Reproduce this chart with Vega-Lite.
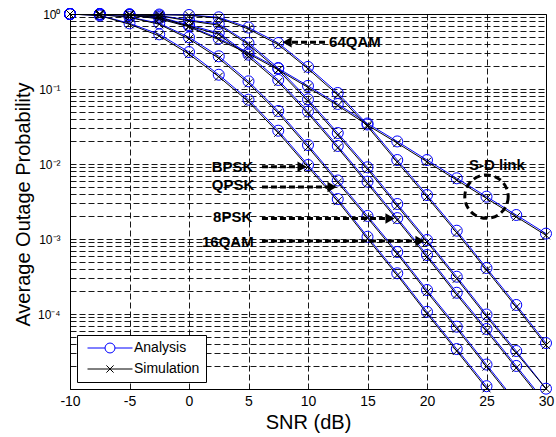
{
  "$schema": "https://vega.github.io/schema/vega-lite/v6.json",
  "width": 476,
  "height": 375,
  "autosize": {"type": "none"},
  "padding": {"left": 70, "top": 14, "right": 10, "bottom": 48},
  "background": "white",
  "config": {
    "view": {"stroke": "#000000", "strokeWidth": 1},
    "font": "Liberation Sans",
    "axis": {"labelColor": "#000000", "titleColor": "#000000"}
  },
  "datasets": {
    "curves": [
      {"curve":"64QAM","snr":-10,"analysis":1,"simulation":1},
      {"curve":"64QAM","snr":-7.5,"analysis":1,"simulation":1},
      {"curve":"64QAM","snr":-5,"analysis":0.995,"simulation":0.993},
      {"curve":"64QAM","snr":-2.5,"analysis":0.985,"simulation":0.98},
      {"curve":"64QAM","snr":0,"analysis":0.97,"simulation":0.96},
      {"curve":"64QAM","snr":2.5,"analysis":0.904,"simulation":0.88},
      {"curve":"64QAM","snr":5,"analysis":0.66,"simulation":0.63},
      {"curve":"64QAM","snr":7.5,"analysis":0.41,"simulation":0.39},
      {"curve":"64QAM","snr":10,"analysis":0.197,"simulation":0.186},
      {"curve":"64QAM","snr":12.5,"analysis":0.0885,"simulation":0.0832},
      {"curve":"64QAM","snr":15,"analysis":0.0336,"simulation":0.0316},
      {"curve":"64QAM","snr":17.5,"analysis":0.0113,"simulation":0.0106},
      {"curve":"64QAM","snr":20,"analysis":0.00386,"simulation":0.00363},
      {"curve":"64QAM","snr":22.5,"analysis":0.00129,"simulation":0.00121},
      {"curve":"64QAM","snr":25,"analysis":0.00041,"simulation":0.000385},
      {"curve":"64QAM","snr":27.5,"analysis":0.000132,"simulation":0.000124},
      {"curve":"64QAM","snr":30,"analysis":0.000041,"simulation":0.0000385},

      {"curve":"16QAM","snr":-10,"analysis":1,"simulation":1},
      {"curve":"16QAM","snr":-7.5,"analysis":1,"simulation":1},
      {"curve":"16QAM","snr":-5,"analysis":0.985,"simulation":0.98},
      {"curve":"16QAM","snr":-2.5,"analysis":0.955,"simulation":0.945},
      {"curve":"16QAM","snr":0,"analysis":0.832,"simulation":0.81},
      {"curve":"16QAM","snr":2.5,"analysis":0.736,"simulation":0.71},
      {"curve":"16QAM","snr":5,"analysis":0.411,"simulation":0.39},
      {"curve":"16QAM","snr":7.5,"analysis":0.1905,"simulation":0.179},
      {"curve":"16QAM","snr":10,"analysis":0.0729,"simulation":0.0685},
      {"curve":"16QAM","snr":12.5,"analysis":0.0259,"simulation":0.0243},
      {"curve":"16QAM","snr":15,"analysis":0.00904,"simulation":0.0085},
      {"curve":"16QAM","snr":17.5,"analysis":0.00293,"simulation":0.00275},
      {"curve":"16QAM","snr":20,"analysis":0.00097,"simulation":0.000912},
      {"curve":"16QAM","snr":22.5,"analysis":0.000314,"simulation":0.000295},
      {"curve":"16QAM","snr":25,"analysis":0.0000985,"simulation":0.0000926},
      {"curve":"16QAM","snr":27.5,"analysis":0.0000321,"simulation":0.0000302},
      {"curve":"16QAM","snr":30,"analysis":0.0000101,"simulation":0.0000101},

      {"curve":"8PSK","snr":-10,"analysis":1,"simulation":1},
      {"curve":"8PSK","snr":-7.5,"analysis":0.994,"simulation":0.99},
      {"curve":"8PSK","snr":-5,"analysis":0.97,"simulation":0.965},
      {"curve":"8PSK","snr":-2.5,"analysis":0.912,"simulation":0.9},
      {"curve":"8PSK","snr":0,"analysis":0.714,"simulation":0.69},
      {"curve":"8PSK","snr":2.5,"analysis":0.558,"simulation":0.535},
      {"curve":"8PSK","snr":5,"analysis":0.287,"simulation":0.27},
      {"curve":"8PSK","snr":7.5,"analysis":0.132,"simulation":0.124},
      {"curve":"8PSK","snr":10,"analysis":0.0501,"simulation":0.0471},
      {"curve":"8PSK","snr":12.5,"analysis":0.0174,"simulation":0.0164},
      {"curve":"8PSK","snr":15,"analysis":0.00581,"simulation":0.00546},
      {"curve":"8PSK","snr":17.5,"analysis":0.0019,"simulation":0.00179},
      {"curve":"8PSK","snr":20,"analysis":0.000612,"simulation":0.000575},
      {"curve":"8PSK","snr":22.5,"analysis":0.000192,"simulation":0.00018},
      {"curve":"8PSK","snr":25,"analysis":0.0000631,"simulation":0.0000593},
      {"curve":"8PSK","snr":27.5,"analysis":0.0000203,"simulation":0.0000191},
      {"curve":"8PSK","snr":30,"analysis":0.0000065,"simulation":0.0000061},

      {"curve":"QPSK","snr":-10,"analysis":1,"simulation":1},
      {"curve":"QPSK","snr":-7.5,"analysis":0.985,"simulation":0.98},
      {"curve":"QPSK","snr":-5,"analysis":0.912,"simulation":0.9},
      {"curve":"QPSK","snr":-2.5,"analysis":0.751,"simulation":0.73},
      {"curve":"QPSK","snr":0,"analysis":0.489,"simulation":0.465},
      {"curve":"QPSK","snr":2.5,"analysis":0.273,"simulation":0.257},
      {"curve":"QPSK","snr":5,"analysis":0.1266,"simulation":0.119},
      {"curve":"QPSK","snr":7.5,"analysis":0.0509,"simulation":0.0478},
      {"curve":"QPSK","snr":10,"analysis":0.0179,"simulation":0.0168},
      {"curve":"QPSK","snr":12.5,"analysis":0.00603,"simulation":0.00567},
      {"curve":"QPSK","snr":15,"analysis":0.00203,"simulation":0.00191},
      {"curve":"QPSK","snr":17.5,"analysis":0.000671,"simulation":0.000631},
      {"curve":"QPSK","snr":20,"analysis":0.000209,"simulation":0.000196},
      {"curve":"QPSK","snr":22.5,"analysis":0.0000677,"simulation":0.0000636},
      {"curve":"QPSK","snr":25,"analysis":0.0000212,"simulation":0.0000199},
      {"curve":"QPSK","snr":27.5,"analysis":0.0000067,"simulation":0.0000063},
      {"curve":"QPSK","snr":30,"analysis":0.00000215,"simulation":0.000002},

      {"curve":"BPSK","snr":-10,"analysis":1,"simulation":1},
      {"curve":"BPSK","snr":-7.5,"analysis":0.955,"simulation":0.95},
      {"curve":"BPSK","snr":-5,"analysis":0.751,"simulation":0.73},
      {"curve":"BPSK","snr":-2.5,"analysis":0.536,"simulation":0.51},
      {"curve":"BPSK","snr":0,"analysis":0.311,"simulation":0.292},
      {"curve":"BPSK","snr":2.5,"analysis":0.155,"simulation":0.146},
      {"curve":"BPSK","snr":5,"analysis":0.072,"simulation":0.0677},
      {"curve":"BPSK","snr":7.5,"analysis":0.0278,"simulation":0.0261},
      {"curve":"BPSK","snr":10,"analysis":0.0097,"simulation":0.00912},
      {"curve":"BPSK","snr":12.5,"analysis":0.00341,"simulation":0.0032},
      {"curve":"BPSK","snr":15,"analysis":0.00107,"simulation":0.00101},
      {"curve":"BPSK","snr":17.5,"analysis":0.000349,"simulation":0.000328},
      {"curve":"BPSK","snr":20,"analysis":0.000107,"simulation":0.000101},
      {"curve":"BPSK","snr":22.5,"analysis":0.0000341,"simulation":0.0000321},
      {"curve":"BPSK","snr":25,"analysis":0.0000109,"simulation":0.0000102},
      {"curve":"BPSK","snr":27.5,"analysis":0.0000035,"simulation":0.0000033},
      {"curve":"BPSK","snr":30,"analysis":0.0000011,"simulation":0.000001},

      {"curve":"S-D","snr":-10,"analysis":1,"simulation":1},
      {"curve":"S-D","snr":-7.5,"analysis":1,"simulation":1},
      {"curve":"S-D","snr":-5,"analysis":0.97,"simulation":0.965},
      {"curve":"S-D","snr":-2.5,"analysis":0.871,"simulation":0.86},
      {"curve":"S-D","snr":0,"analysis":0.692,"simulation":0.675},
      {"curve":"S-D","snr":2.5,"analysis":0.471,"simulation":0.455},
      {"curve":"S-D","snr":5,"analysis":0.307,"simulation":0.295},
      {"curve":"S-D","snr":7.5,"analysis":0.188,"simulation":0.18},
      {"curve":"S-D","snr":10,"analysis":0.11,"simulation":0.105},
      {"curve":"S-D","snr":12.5,"analysis":0.0631,"simulation":0.06},
      {"curve":"S-D","snr":15,"analysis":0.0347,"simulation":0.033},
      {"curve":"S-D","snr":17.5,"analysis":0.02,"simulation":0.019},
      {"curve":"S-D","snr":20,"analysis":0.0113,"simulation":0.0107},
      {"curve":"S-D","snr":22.5,"analysis":0.00645,"simulation":0.0061},
      {"curve":"S-D","snr":25,"analysis":0.00367,"simulation":0.00348},
      {"curve":"S-D","snr":27.5,"analysis":0.00209,"simulation":0.00198},
      {"curve":"S-D","snr":30,"analysis":0.00118,"simulation":0.00112}
    ],
    "arrows": [
      {"name":"BPSK","x1":6.13,"x2":9.5,"y":0.0092,"dir":"right"},
      {"name":"QPSK","x1":6.13,"x2":12.02,"y":0.00493,"dir":"right"},
      {"name":"8PSK","x1":6.13,"x2":16.89,"y":0.00188,"dir":"right"},
      {"name":"16QAM","x1":6.13,"x2":19.41,"y":0.00094,"dir":"right"},
      {"name":"64QAM","x1":11.43,"x2":8.24,"y":0.4195,"dir":"left"}
    ],
    "labels": [
      {"text":"BPSK","x":1.91,"y":0.00912},
      {"text":"QPSK","x":1.91,"y":0.00517},
      {"text":"8PSK","x":2.02,"y":0.00196},
      {"text":"16QAM","x":1.09,"y":0.000912},
      {"text":"64QAM","x":11.77,"y":0.423},
      {"text":"S-D link","x":23.53,"y":0.0097}
    ],
    "sdcircle": [{"x":25,"y":0.00367}],
    "legenddummy": [
      {"type":"Analysis","x":-50,"y":0.5},
      {"type":"Simulation","x":-50,"y":0.5}
    ]
  },
  "layer": [
    {
      "data": {"name": "curves"},
      "mark": {"type": "line", "color": "#0000ff", "strokeWidth": 1, "clip": true},
      "encoding": {
        "x": {
          "field": "snr", "type": "quantitative", "title": "SNR (dB)",
          "scale": {"domain": [-10, 30], "nice": false, "zero": false},
          "axis": {
            "values": [-10, -5, 0, 5, 10, 15, 20, 25, 30],
            "labelExpr": "replace(datum.label, '−', '-')",
            "grid": true, "gridColor": "#000000", "gridOpacity": 0.9, "gridDash": [6, 3], "gridWidth": 1,
            "ticks": false, "domain": false, "labelFlush": false,
            "labelFontSize": 14, "labelPadding": 5, "labelFont": "Liberation Sans",
            "titleFontSize": 20, "titleFontWeight": "normal", "titleFont": "Liberation Sans",
            "titleX": 238, "titleY": 39, "titleBaseline": "alphabetic", "titleAlign": "center", "titleAnchor": null
          }
        },
        "y": {
          "field": "analysis", "type": "quantitative", "title": "Average Outage Probability",
          "scale": {"type": "log", "domain": [0.00001, 1], "nice": false},
          "axis": {
            "values": [0.00001,0.00002,0.00003,0.00004,0.00005,0.00006,0.00007,0.00008,0.00009,
                       0.0001,0.0002,0.0003,0.0004,0.0005,0.0006,0.0007,0.0008,0.0009,
                       0.001,0.002,0.003,0.004,0.005,0.006,0.007,0.008,0.009,
                       0.01,0.02,0.03,0.04,0.05,0.06,0.07,0.08,0.09,
                       0.1,0.2,0.3,0.4,0.5,0.6,0.7,0.8,0.9,1],
            "labelExpr": "(abs(log(datum.value)/LN10 - round(log(datum.value)/LN10)) < 0.000001 && datum.value > 0.00005) ? ('10' + ['⁰','⁻¹','⁻²','⁻³','⁻⁴'][round(-log(datum.value)/LN10)]) : ''",
            "labelOverlap": false,
            "grid": true, "gridColor": "#000000", "gridOpacity": 0.9, "gridDash": [6, 3], "gridWidth": 1,
            "ticks": false, "domain": false,
            "labelFontSize": 12, "labelPadding": 10, "labelFont": "Liberation Sans", "labelBaseline": "middle",
            "titleFontSize": 20, "titleFontWeight": "normal", "titleFont": "Liberation Sans",
            "titleX": -41, "titleY": 190, "titleAngle": 270, "titleBaseline": "alphabetic", "titleAlign": "center", "titleAnchor": null
          }
        },
        "detail": {"field": "curve"}
      }
    },
    {
      "data": {"name": "curves"},
      "transform": [{"filter": "datum.analysis >= 0.00001"}],
      "mark": {"type": "point", "shape": "circle", "size": 121, "filled": false, "color": "#0000ff", "strokeWidth": 1, "opacity": 1},
      "encoding": {
        "x": {"field": "snr", "type": "quantitative", "title": "SNR (dB)"},
        "y": {"field": "analysis", "type": "quantitative", "title": "Average Outage Probability"}
      }
    },
    {
      "data": {"name": "curves"},
      "mark": {"type": "line", "color": "#000000", "strokeWidth": 1, "clip": true},
      "encoding": {
        "x": {"field": "snr", "type": "quantitative", "title": "SNR (dB)"},
        "y": {"field": "simulation", "type": "quantitative", "title": "Average Outage Probability"},
        "detail": {"field": "curve"}
      }
    },
    {
      "data": {"name": "curves"},
      "transform": [{"filter": "datum.simulation >= 0.00001"}],
      "mark": {"type": "point", "shape": "M-1,-1L1,1M-1,1L1,-1", "size": 64, "filled": false, "color": "#000000", "strokeWidth": 1, "opacity": 1},
      "encoding": {
        "x": {"field": "snr", "type": "quantitative", "title": "SNR (dB)"},
        "y": {"field": "simulation", "type": "quantitative", "title": "Average Outage Probability"}
      }
    },
    {
      "data": {"name": "arrows"},
      "mark": {"type": "rule", "color": "#000000", "strokeWidth": 3, "strokeDash": [6, 3]},
      "encoding": {
        "x": {"field": "x1", "type": "quantitative", "title": "SNR (dB)"},
        "x2": {"field": "x2"},
        "y": {"field": "y", "type": "quantitative", "title": "Average Outage Probability"}
      }
    },
    {
      "data": {"name": "arrows"},
      "transform": [{"filter": "datum.dir == 'right'"}],
      "mark": {"type": "point", "shape": "triangle-right", "size": 110, "filled": true, "color": "#000000", "opacity": 1},
      "encoding": {
        "x": {"field": "x2", "type": "quantitative", "title": "SNR (dB)"},
        "y": {"field": "y", "type": "quantitative", "title": "Average Outage Probability"}
      }
    },
    {
      "data": {"name": "arrows"},
      "transform": [{"filter": "datum.dir == 'left'"}],
      "mark": {"type": "point", "shape": "triangle-left", "size": 110, "filled": true, "color": "#000000", "opacity": 1},
      "encoding": {
        "x": {"field": "x2", "type": "quantitative", "title": "SNR (dB)"},
        "y": {"field": "y", "type": "quantitative", "title": "Average Outage Probability"}
      }
    },
    {
      "data": {"name": "labels"},
      "mark": {"type": "text", "align": "left", "baseline": "middle", "font": "Liberation Sans", "fontWeight": "bold", "fontSize": 15, "color": "#000000"},
      "encoding": {
        "x": {"field": "x", "type": "quantitative", "title": "SNR (dB)"},
        "y": {"field": "y", "type": "quantitative", "title": "Average Outage Probability"},
        "text": {"field": "text"}
      }
    },
    {
      "data": {"name": "sdcircle"},
      "mark": {"type": "point", "shape": "circle", "size": 1884, "filled": false, "color": "#000000", "strokeWidth": 3, "strokeDash": [7, 4], "opacity": 1},
      "encoding": {
        "x": {"field": "x", "type": "quantitative", "title": "SNR (dB)"},
        "y": {"field": "y", "type": "quantitative", "title": "Average Outage Probability"}
      }
    },
    {
      "data": {"name": "legenddummy"},
      "mark": {"type": "point", "filled": false, "strokeWidth": 1, "size": 144, "opacity": 1, "clip": true},
      "encoding": {
        "x": {"field": "x", "type": "quantitative", "title": "SNR (dB)"},
        "y": {"field": "y", "type": "quantitative", "title": "Average Outage Probability"},
        "color": {
          "field": "type", "type": "nominal",
          "scale": {"domain": ["Analysis", "Simulation"], "range": ["#0000ff", "#000000"]},
          "legend": {
            "orient": "none", "legendX": 7, "legendY": 321, "title": null,
            "symbolSize": 144, "symbolStrokeWidth": 1, "symbolOffset": 20, "labelOffset": 17,
            "labelFontSize": 14, "labelFont": "Liberation Sans", "labelColor": "#000000",
            "padding": 6, "rowPadding": 7, "strokeColor": "#000000", "fillColor": "#ffffff"
          }
        },
        "shape": {
          "field": "type", "type": "nominal",
          "scale": {"domain": ["Analysis", "Simulation"], "range": ["M-3.75,0L-0.83,0M0.83,0L3.75,0M-0.83,0A0.83,0.83,0,1,1,0.83,0A0.83,0.83,0,1,1,-0.83,0", "M-3.75,0L3.75,0M-0.6,-0.6L0.6,0.6M-0.6,0.6L0.6,-0.6"]},
          "legend": {
            "orient": "none", "legendX": 7, "legendY": 321, "title": null,
            "symbolSize": 144, "symbolStrokeWidth": 1, "symbolOffset": 20, "labelOffset": 17,
            "labelFontSize": 14, "labelFont": "Liberation Sans", "labelColor": "#000000",
            "padding": 6, "rowPadding": 7, "strokeColor": "#000000", "fillColor": "#ffffff"
          }
        }
      }
    }
  ]
}
